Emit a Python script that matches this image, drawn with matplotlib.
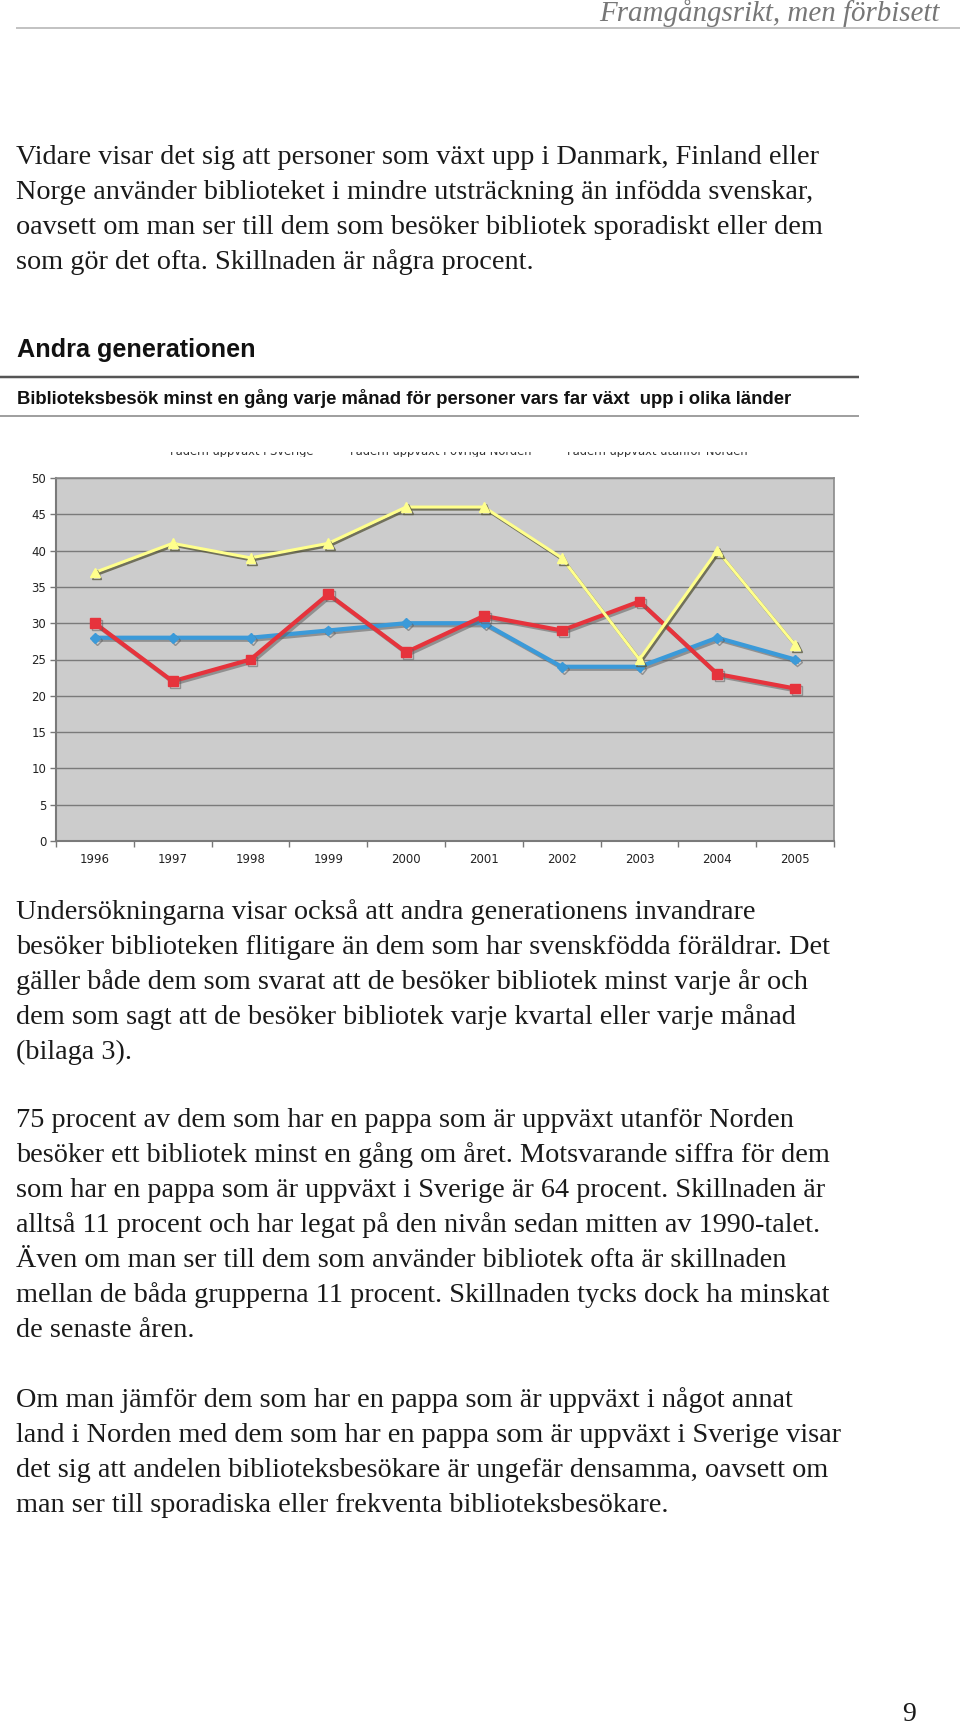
import matplotlib
matplotlib.use('Agg')
import matplotlib.pyplot as plt
from matplotlib import patheffects as pe
from matplotlib.lines import Line2D
import numpy as np

W, H = 960, 1725

# ---------------- data ----------------
years = ['1996', '1997', '1998', '1999', '2000', '2001', '2002', '2003', '2004', '2005']
sverige = [28, 28, 28, 29, 30, 30, 24, 24, 28, 25]
ovriga_norden = [30, 22, 25, 34, 26, 31, 29, 33, 23, 21]
utanfor_norden = [37, 41, 39, 41, 46, 46, 39, 25, 40, 27]
series_labels = ['Fadern uppväxt i Sverige', 'Fadern uppväxt i övriga Norden',
                 'Fadern uppväxt utanför Norden']
y_ticks = [0, 5, 10, 15, 20, 25, 30, 35, 40, 45, 50]

header = 'Framgångsrikt, men förbisett'
title = 'Andra generationen'
subtitle = 'Biblioteksbesök minst en gång varje månad för personer vars far växt  upp i olika länder'

para1 = ['Vidare visar det sig att personer som växt upp i Danmark, Finland eller',
         'Norge använder biblioteket i mindre utsträckning än infödda svenskar,',
         'oavsett om man ser till dem som besöker bibliotek sporadiskt eller dem',
         'som gör det ofta. Skillnaden är några procent.']
para2 = ['Undersökningarna visar också att andra generationens invandrare',
         'besöker biblioteken flitigare än dem som har svenskfödda föräldrar. Det',
         'gäller både dem som svarat att de besöker bibliotek minst varje år och',
         'dem som sagt att de besöker bibliotek varje kvartal eller varje månad',
         '(bilaga 3).']
para3 = ['75 procent av dem som har en pappa som är uppväxt utanför Norden',
         'besöker ett bibliotek minst en gång om året. Motsvarande siffra för dem',
         'som har en pappa som är uppväxt i Sverige är 64 procent. Skillnaden är',
         'alltså 11 procent och har legat på den nivån sedan mitten av 1990-talet.',
         'Även om man ser till dem som använder bibliotek ofta är skillnaden',
         'mellan de båda grupperna 11 procent. Skillnaden tycks dock ha minskat',
         'de senaste åren.']
para4 = ['Om man jämför dem som har en pappa som är uppväxt i något annat',
         'land i Norden med dem som har en pappa som är uppväxt i Sverige visar',
         'det sig att andelen biblioteksbesökare är ungefär densamma, oavsett om',
         'man ser till sporadiska eller frekventa biblioteksbesökare.']
page_no = '9'

# ---------------- figure ----------------
fig = plt.figure(figsize=(W / 100, H / 100), dpi=100)
renderer = fig.canvas.get_renderer()


def fx(x):
    return x / W


def fy(y):
    return 1 - y / H


def fit_size(text, target_w, base=20, **kw):
    t = fig.text(0, 0, text, fontsize=base, **kw)
    w = t.get_window_extent(renderer).width
    t.remove()
    return base * target_w / w


def hline(y, x0, x1, lw_px, color):
    fig.add_artist(Line2D([fx(x0), fx(x1)], [fy(y), fy(y)], transform=fig.transFigure,
                          color=color, lw=lw_px * 0.72, solid_capstyle='butt'))


serif = ['Liberation Serif', 'DejaVu Serif']
sans = ['Liberation Sans', 'DejaVu Sans']
body_color = '#1a1a1a'

# header
hs = fit_size(header, 341, family=serif, style='italic')
fig.text(fx(940), fy(21), header, fontsize=hs, family=serif, style='italic',
         color='#777777', ha='right', va='baseline')
hline(27.5, 16, 960, 1.5, '#b0b0b0')

# body paragraphs
bs = fit_size(para1[0], 803, family=serif)


def paragraph(lines, y0, step=35):
    for i, line in enumerate(lines):
        fig.text(fx(16), fy(y0 + i * step), line, fontsize=bs, family=serif,
                 color=body_color, ha='left', va='baseline')


paragraph(para1, 164)
paragraph(para2, 919)
paragraph(para3, 1127)
paragraph(para4, 1407)

# chart titles
ts = fit_size(title, 238, family=sans, weight='bold')
fig.text(fx(17), fy(357), title, fontsize=ts, family=sans, weight='bold',
         color='#111111', ha='left', va='baseline')
hline(377, 0, 859, 2.5, '#555555')
ss = fit_size(subtitle, 773, family=sans, weight='bold')
fig.text(fx(17), fy(404), subtitle, fontsize=ss, family=sans, weight='bold',
         color='#111111', ha='left', va='baseline')
hline(416, 0, 859, 2, '#a0a0a0')

# clipped legend strip (only the bottom of the legend is visible)
ax_leg = fig.add_axes([0, fy(457), 1, 5 / H])
ax_leg.axis('off')
ax_leg.set_xlim(0, W)
ax_leg.set_ylim(457, 452)
leg_x = [170, 350, 567]
for lx, lab in zip(leg_x, series_labels):
    ax_leg.text(lx, 454.5, lab, fontsize=8.3, family=['DejaVu Sans'], color='#333333',
                ha='left', va='baseline', clip_on=True)

# chart
ax = fig.add_axes([fx(56), fy(841), fx(834) - fx(56), (841 - 478) / H])
x = np.arange(len(years))
ax.set_facecolor('#cccccc')
ax.set_xlim(-0.5, len(years) - 0.5)
ax.set_ylim(0, 50)
ax.set_yticks(y_ticks)
ax.yaxis.grid(True, color='#7a7a7a', lw=1.0)
ax.set_axisbelow(True)
ax.set_xticks(x)
ax.set_xticklabels(years)
ax.set_xticks(np.arange(-0.5, len(years), 1), minor=True)
ax.tick_params(axis='x', which='major', length=0, pad=8.5, labelsize=8.5, labelcolor='#222222')
ax.tick_params(axis='x', which='minor', length=4, width=1, color='#777777', direction='out')
ax.tick_params(axis='y', length=4, width=1, color='#777777', pad=3, labelsize=8.5,
               labelcolor='#222222')
for lab in ax.get_xticklabels() + ax.get_yticklabels():
    lab.set_family('DejaVu Sans')
for s in ['left', 'bottom']:
    ax.spines[s].set_color('#7a7a7a')
    ax.spines[s].set_linewidth(1.5)
for s in ['top', 'right']:
    ax.spines[s].set_color('#8a8a8a')
    ax.spines[s].set_linewidth(1.2)

shadow = [pe.SimpleLineShadow(offset=(1.5, -1.5), shadow_color='#606060', alpha=0.55), pe.Normal()]
shadow_y = [pe.SimpleLineShadow(offset=(1.2, -1.5), shadow_color='#5a5a40', alpha=0.8), pe.Normal()]

ax.plot(x, sverige, color='#3b9ad9', lw=3.0, marker='D', ms=5, mec='#3b9ad9',
        path_effects=shadow, zorder=3, label=series_labels[0])
ax.plot(x, ovriga_norden, color='#e6333c', lw=3.0, marker='s', ms=7, mec='#e6333c',
        path_effects=shadow, zorder=4, label=series_labels[1])
ax.plot(x, utanfor_norden, color='#ffff8c', lw=2.2, marker='^', ms=7, mec='#ffff8c',
        path_effects=shadow_y, zorder=5, label=series_labels[2])

# page number
fig.text(fx(909), fy(1721), page_no, fontsize=20, family=serif, color=body_color,
         ha='center', va='baseline')

fig.savefig('out.png', dpi=100, facecolor='white')
